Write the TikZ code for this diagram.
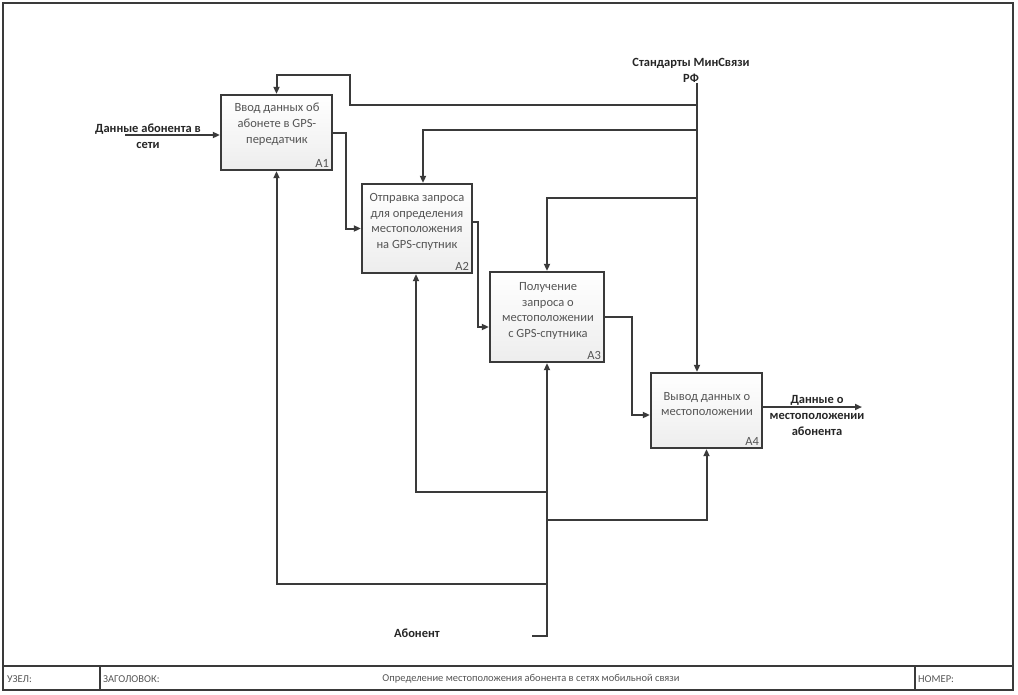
\documentclass[tikz,border=0pt]{standalone}
\usepackage{fontspec}
\setmainfont{Carlito}
\usetikzlibrary{arrows.meta}
\definecolor{linec}{HTML}{3A3A3A}
\definecolor{txtc}{HTML}{555555}
\tikzset{
  fnbox/.style={draw=linec, line width=2.3pt, top color=white, bottom color=gray!14, minimum width=#1, inner sep=0pt},
  boxtxt/.style={font=\fontsize{12.5}{15.8}\selectfont, text=txtc, align=center, anchor=center, inner sep=0pt},
  boxid/.style={font=\fontsize{12.5}{13}\selectfont, text=txtc, anchor=south east, inner sep=0pt},
  conn/.style={draw=linec, line width=2pt},
  arr/.style={conn, -{Triangle[length=7pt,width=6pt]}},
  lbl/.style={font=\bfseries\fontsize{12.5}{16}\selectfont, text=black!85, align=center, inner sep=0pt},
  foot/.style={font=\fontsize{10.5}{11}\selectfont, text=txtc, inner sep=0pt},
}
\begin{document}
\begin{tikzpicture}[x=1pt,y=-1pt]
\useasboundingbox (0,0) rectangle (1018,694);
% frame
\draw[linec, line width=1.6pt] (3,3) rectangle (1013,690);
\draw[linec, line width=1.6pt] (3,666) -- (1013,666);
\draw[linec, line width=1.6pt] (100,666) -- (100,690);
\draw[linec, line width=1.6pt] (915,666) -- (915,690);
\node[foot, anchor=west] (fuzel) at (7,679) {УЗЕЛ:};
\node[foot, anchor=west] (fzag) at (103,679) {ЗАГОЛОВОК:};
\node[foot] (ftitle) at (531,679) {Определение местоположения абонента в сетях мобильной связи};
\node[foot, anchor=west] (fnom) at (918,679) {НОМЕР:};

% boxes
\node[fnbox=111pt, minimum height=75pt] (A1) at (276.5,132.5) {};
\node[fnbox=110pt, minimum height=89pt] (A2) at (417,228.5) {};
\node[fnbox=114pt, minimum height=90pt] (A3) at (547,317) {};
\node[fnbox=111pt, minimum height=75pt] (A4) at (706.5,410.5) {};

\node[boxtxt] (t1) at (277,124) {Ввод данных об\\абонете в GPS-\\передатчик};
\node[boxtxt] (t2) at (417,222) {Отправка запроса\\для определения\\местоположения\\на GPS-спутник};
\node[boxtxt] (t3) at (548,311) {Получение\\запроса о\\местоположении\\с GPS-спутника};
\node[boxtxt] (t4) at (707,404) {Вывод данных о\\местоположении};

\node[boxid] (n1) at ([xshift=-4pt,yshift=3pt]A1.south east) {A1};
\node[boxid] (n2) at ([xshift=-4pt,yshift=3pt]A2.south east) {A2};
\node[boxid] (n3) at ([xshift=-4pt,yshift=3pt]A3.south east) {A3};
\node[boxid] (n4) at ([xshift=-4pt,yshift=3pt]A4.south east) {A4};

% labels
\node[lbl] (lin) at (148,136) {Данные абонента в\\сети};
\node[lbl] (lctl) at (691,70) {Стандарты МинСвязи\\РФ};
\node[lbl] (lout) at (817,415) {Данные о\\местоположении\\абонента};
\node[lbl] (lmech) at (417,633) {Абонент};

% coordinates
\coordinate (cin) at (125,135);
\coordinate (cctl) at (697,83);
\coordinate (cout) at (862,407);
\coordinate (cmech) at (532,636);

% input
\draw[arr] (cin) -- (cin -| A1.west);
% flows
\draw[arr] (A1.east) -- (346,132.5) |- (A2.west);
\draw[arr] ([yshift=6.5pt]A2.east) -- (478,222) |- ([yshift=-10pt]A3.west);
\draw[arr] (A3.east) -- (632,317) |- ([yshift=-4.5pt]A4.west);
\draw[arr] ([yshift=3.5pt]A4.east) -- (cout);

% controls
\draw[arr] (cctl) -- (cctl |- A4.north);
\draw[arr] (697,105) -- (350,105) -- (350,75) -| (A1.north);
\draw[arr] (697,130) -| ([xshift=6pt]A2.north);
\draw[arr] (697,198) -| (A3.north);

% mechanisms
\draw[arr] (cmech) -- (547,636) -- (A3.south);
\draw[arr] (547,584) -| (A1.south);
\draw[arr] (547,492) -| ([xshift=-1pt]A2.south);
\draw[arr] (547,520) -| (A4.south);
\end{tikzpicture}
\end{document}
